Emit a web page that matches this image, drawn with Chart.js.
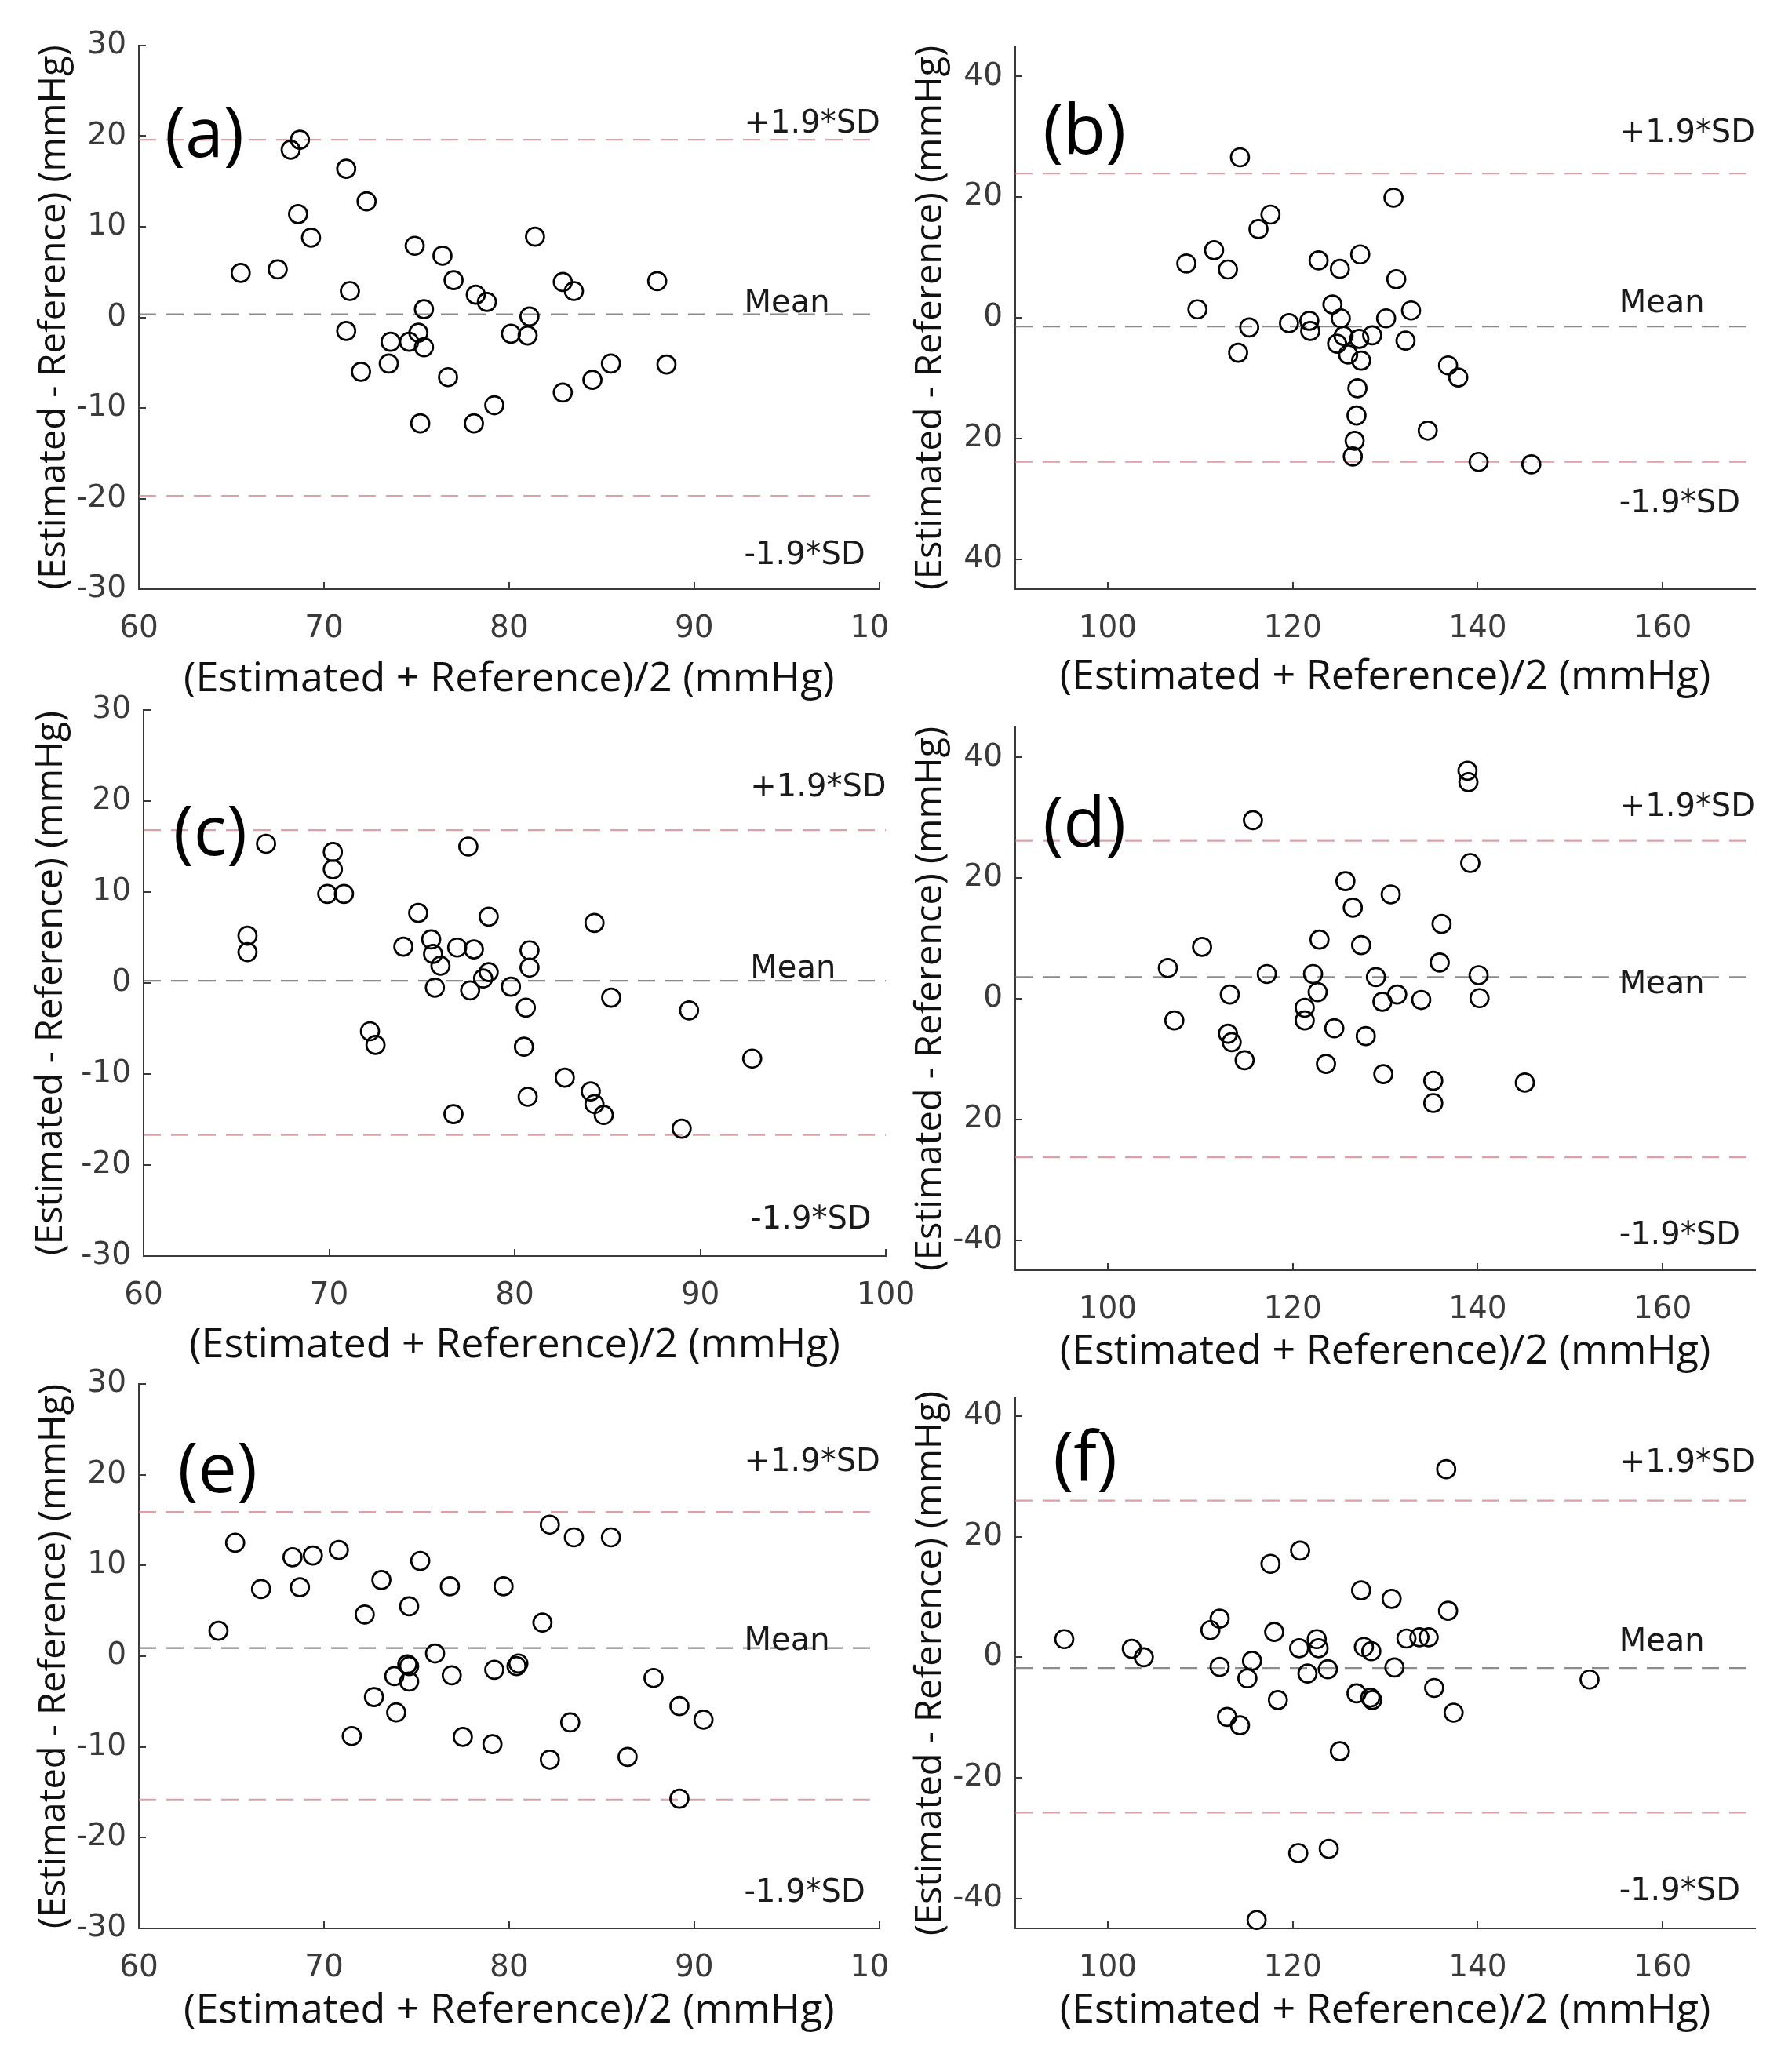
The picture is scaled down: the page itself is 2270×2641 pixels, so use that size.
<!DOCTYPE html>
<html>
<head>
<meta charset="utf-8">
<script src="https://cdn.jsdelivr.net/npm/chart.js@4.4.1/dist/chart.umd.min.js"></script>
<style>
  html, body { margin: 0; padding: 0; background: #ffffff; }
  #wrap { position: relative; width: 2270px; height: 2641px; background: #ffffff; overflow: hidden; }
  .panel { position: absolute; }
</style>
</head>
<body>
<div id="wrap"></div>
<script>
// ---------------- DATA ----------------
// (a)
const aX = [65.5, 67.5, 68.2, 68.7, 68.6, 69.3, 71.2, 71.4, 71.2, 72.0, 72.3, 73.5, 73.6, 74.6, 75.1, 74.9, 75.4, 75.4, 75.2, 76.4, 76.7, 77.0, 78.2, 78.8, 78.1, 79.2, 80.1, 81.0, 81.1, 81.4, 82.9, 83.5, 82.9, 84.5, 85.5, 88.0, 88.5];
const aY = [4.9, 5.3, 18.5, 19.6, 11.4, 8.8, 16.4, 2.9, -1.5, -6.0, 12.8, -5.1, -2.7, -2.7, -1.7, 7.9, 0.9, -3.3, -11.7, 6.8, -6.6, 4.1, 2.5, 1.7, -11.7, -9.7, -1.8, -2.0, 0.1, 8.9, 3.9, 2.9, -8.3, -6.9, -5.1, 4.0, -5.2];
const aLines = [19.6, 0.34, -19.7];
// (b)
const bX = [114.3, 130.9, 117.6, 116.3, 111.5, 108.5, 113.0, 122.8, 125.1, 127.3, 131.2, 109.7, 124.3, 125.2, 132.8, 130.1, 115.3, 119.6, 121.8, 121.9, 125.5, 127.2, 128.6, 124.8, 126.0, 132.2, 114.1, 127.4, 136.8, 137.9, 127.0, 126.9, 126.7, 126.5, 134.6, 140.1, 145.8];
const bY = [26.6, 19.9, 17.1, 14.7, 11.2, 9.0, 8.0, 9.5, 8.1, 10.5, 6.4, 1.4, 2.2, -0.1, 1.2, -0.1, -1.6, -0.9, -0.5, -2.2, -3.0, -3.5, -2.9, -4.3, -6.1, -3.8, -5.8, -7.1, -7.9, -9.9, -11.7, -16.2, -20.4, -23.0, -18.7, -23.9, -24.3];
const bLines = [23.9, -1.45, -23.9];
// (c)
const cX = [66.6, 70.2, 70.2, 69.9, 70.8, 77.5, 65.6, 65.6, 74.8, 78.6, 84.3, 74.0, 75.5, 75.6, 76.0, 75.7, 76.9, 77.8, 77.6, 78.3, 78.6, 79.8, 80.8, 80.8, 80.6, 80.5, 80.7, 85.2, 89.4, 72.2, 72.5, 76.7, 82.7, 84.1, 84.3, 84.8, 89.0, 92.8];
const cY = [15.3, 14.4, 12.5, 9.8, 9.8, 15.0, 5.2, 3.4, 7.7, 7.3, 6.6, 4.0, 4.8, 3.2, 1.9, -0.5, 3.9, 3.7, -0.8, 0.5, 1.2, -0.4, 3.6, 1.7, -2.7, -7.0, -12.5, -1.6, -3.0, -5.3, -6.8, -14.4, -10.4, -11.9, -13.3, -14.5, -16.0, -8.3];
const cLines = [16.8, 0.24, -16.7];
// (d)
const dX = [138.9, 139.0, 115.7, 139.2, 125.7, 130.6, 126.5, 136.1, 110.2, 122.9, 127.4, 106.5, 135.9, 117.2, 122.2, 129.0, 140.1, 122.7, 113.2, 131.3, 129.7, 133.9, 140.2, 121.3, 121.3, 107.2, 113.0, 113.4, 124.5, 127.9, 114.8, 123.6, 129.8, 135.2, 135.2, 145.1];
const dY = [37.8, 35.9, 29.6, 22.5, 19.5, 17.3, 15.1, 12.4, 8.6, 9.8, 8.9, 5.1, 6.0, 4.1, 4.1, 3.6, 3.9, 1.1, 0.7, 0.7, -0.5, -0.2, 0.1, -1.5, -3.6, -3.6, -5.8, -7.2, -4.9, -6.2, -10.2, -10.8, -12.5, -13.6, -17.3, -13.9];
const dLines = [26.2, 3.6, -26.3];
// (e)
const eX = [64.3, 65.2, 66.6, 68.3, 68.7, 69.4, 70.8, 72.2, 73.1, 74.6, 75.2, 76.8, 79.7, 76.0, 74.5, 74.6, 73.8, 74.6, 76.9, 79.2, 80.4, 80.5, 81.8, 82.2, 83.5, 85.5, 72.7, 73.9, 71.5, 77.5, 79.1, 82.2, 83.3, 86.4, 87.8, 89.2, 90.5, 89.2];
const eY = [2.8, 12.5, 7.4, 10.9, 7.6, 11.1, 11.7, 4.6, 8.4, 5.5, 10.5, 7.7, 7.7, 0.3, -0.9, -1.1, -2.2, -2.8, -2.1, -1.5, -1.1, -0.8, 3.7, 14.5, 13.1, 13.1, -4.5, -6.2, -8.8, -8.9, -9.7, -11.4, -7.3, -11.1, -2.4, -5.5, -7.0, -15.7];
const eLines = [15.9, 0.9, -15.8];
// (f)
const fX = [95.3, 102.6, 103.9, 111.1, 112.1, 112.1, 112.9, 114.3, 115.6, 115.1, 117.6, 118.0, 118.4, 120.8, 120.7, 122.6, 122.8, 121.6, 123.8, 125.1, 120.6, 123.9, 116.1, 127.4, 130.7, 136.8, 136.6, 127.7, 128.5, 126.9, 128.4, 128.6, 131.0, 132.3, 133.7, 134.7, 135.3, 137.4, 152.1];
const fY = [3.0, 1.4, 0.0, 4.5, 6.4, -1.6, -9.9, -11.3, -0.6, -3.5, 15.5, 4.2, -7.1, 17.7, 1.5, 3.0, 1.5, -2.7, -2.0, -15.6, -32.5, -31.8, -43.6, 11.1, 9.7, 7.7, 31.2, 1.7, 1.0, -6.0, -6.7, -7.1, -1.7, 3.1, 3.3, 3.3, -5.1, -9.2, -3.7];
const fLines = [26.0, -1.8, -25.8];

// Axis ranges and ticks
const leftXRange = [60, 100];
const rightXRange = [90, 170];
const leftYRange = [-30, 30];
const rightYRange = [-45, 45];
const fYRange = [-45, 43];
const leftXTicks = [60, 70, 80, 90, 100];
const rightXTicks = [100, 120, 140, 160];
const leftYTicks = [30, 20, 10, 0, -10, -20, -30];
const rightYTicks = [40, 20, 0, -20, -40];
const aXLabels = ['60', '70', '80', '90', '10\u2007'];
const cXLabels = ['60', '70', '80', '90', '100'];
const eXLabels = ['60', '70', '80', '90', '10\u2007'];
const rightXLabels = ['100', '120', '140', '160'];
const leftYLabels = ['30', '20', '10', '0', '-10', '-20', '-30'];
const bYLabels = ['40', '20', '0', '20', '40'];
const dYLabels = ['40', '20', '0', '20', '-40'];
const fYLabels = ['40', '20', '0', '-20', '-40'];

// Text
const panelLetters = ['(a)', '(b)', '(c)', '(d)', '(e)', '(f)'];
const lineLabels = ['+1.9*SD', 'Mean', '-1.9*SD'];
const xTitle = '(Estimated + Reference)/2 (mmHg)';
const yTitle = '(Estimated - Reference) (mmHg)';
// positions of the text (data units): [x of letter, y of letter, x of line labels, y of +SD label, y of Mean label, y of -SD label]
const aText = [61.4, 19.9, 92.7, 21.3, 1.5, -26.3];
const bText = [93.0, 30.4, 155.3, 30.5, 2.2, -30.9];
const cText = [61.6, 16.2, 92.7, 21.4, 1.5, -26.1];
const dText = [93.0, 28.5, 155.3, 31.7, 2.2, -39.3];
const eText = [62.1, 20.2, 92.7, 21.3, 1.6, -26.2];
const fText = [94.1, 32.4, 155.3, 32.1, 2.4, -39.0];

// ---------------- LAYOUT / STYLE ----------------
const panels = [
  { xs: aX, ys: aY, lines: aLines, xr: leftXRange, yr: leftYRange, xt: leftXTicks, xl: aXLabels, yt: leftYTicks, yl: leftYLabels, txt: aText,
    box: { left: 0, top: 0, w: 1135, h: 897 }, plot: { left: 177, top: 58, right: 1122, bottom: 751 }, yTitleX: 69 },
  { xs: bX, ys: bY, lines: bLines, xr: rightXRange, yr: rightYRange, xt: rightXTicks, xl: rightXLabels, yt: rightYTicks, yl: bYLabels, txt: bText,
    box: { left: 1135, top: 0, w: 1135, h: 894 }, plot: { left: 1294, top: 59, right: 2237, bottom: 751 }, yTitleX: 51 },
  { xs: cX, ys: cY, lines: cLines, xr: leftXRange, yr: leftYRange, xt: leftXTicks, xl: cXLabels, yt: leftYTicks, yl: leftYLabels, txt: cText,
    box: { left: 0, top: 860, w: 1175, h: 886 }, plot: { left: 183, top: 905, right: 1129, bottom: 1601 }, yTitleX: 65 },
  { xs: dX, ys: dY, lines: dLines, xr: rightXRange, yr: rightYRange, xt: rightXTicks, xl: rightXLabels, yt: rightYTicks, yl: dYLabels, txt: dText,
    box: { left: 1135, top: 860, w: 1135, h: 894 }, plot: { left: 1294, top: 927, right: 2237, bottom: 1619 }, yTitleX: 51 },
  { xs: eX, ys: eY, lines: eLines, xr: leftXRange, yr: leftYRange, xt: leftXTicks, xl: eXLabels, yt: leftYTicks, yl: leftYLabels, txt: eText,
    box: { left: 0, top: 1720, w: 1135, h: 874 }, plot: { left: 177, top: 1764, right: 1122, bottom: 2458 }, yTitleX: 69 },
  { xs: fX, ys: fY, lines: fLines, xr: rightXRange, yr: fYRange, xt: rightXTicks, xl: rightXLabels, yt: rightYTicks, yl: fYLabels, txt: fText,
    box: { left: 1135, top: 1720, w: 1135, h: 874 }, plot: { left: 1294, top: 1782, right: 2237, bottom: 2458 }, yTitleX: 51 }
];

const TICK_FONT = { family: '"DejaVu Sans", sans-serif', size: 39 };
const TICK_COLOR = '#3a3a3a';
const AXIS_COLOR = '#3a3a3a';
const TITLE_X_FONT = { family: '"Open Sans", sans-serif', size: 52, lineHeight: 1.2 };
const TITLE_Y_FONT = { family: '"Open Sans", sans-serif', size: 47, lineHeight: 1.2 };
const LABEL_FONT = '40px "DejaVu Sans", sans-serif';
const LETTER_FONT = '88px "Open Sans", sans-serif';
const SD_COLOR = 'rgba(205,120,130,0.7)';
const MEAN_COLOR = 'rgba(100,100,100,0.75)';
const lineStyles = [SD_COLOR, MEAN_COLOR, SD_COLOR];

const textPlugin = {
  id: 'panelText',
  afterDatasetsDraw(chart, args, opts) {
    const { ctx } = chart;
    const xs = chart.scales.x, ys = chart.scales.y;
    ctx.save();
    ctx.textAlign = 'left';
    ctx.textBaseline = 'middle';
    opts.items.forEach(it => {
      ctx.font = it.font;
      ctx.fillStyle = it.color;
      ctx.fillText(it.text, xs.getPixelForValue(it.x), ys.getPixelForValue(it.y));
    });
    ctx.restore();
  }
};

const wrap = document.getElementById('wrap');

panels.forEach((p, idx) => {
  const div = document.createElement('div');
  div.className = 'panel';
  div.style.left = p.box.left + 'px';
  div.style.top = p.box.top + 'px';
  div.style.width = p.box.w + 'px';
  div.style.height = p.box.h + 'px';
  const cv = document.createElement('canvas');
  cv.width = p.box.w; cv.height = p.box.h;
  cv.style.width = p.box.w + 'px'; cv.style.height = p.box.h + 'px';
  div.appendChild(cv);
  wrap.appendChild(div);

  const padTop = p.plot.top - p.box.top;
  const padRight = p.box.left + p.box.w - p.plot.right;
  const yWidth = p.plot.left - p.box.left;
  const xHeight = p.box.top + p.box.h - p.plot.bottom;

  const datasets = p.lines.map((v, i) => ({
    type: 'line',
    data: [{ x: p.xr[0], y: v }, { x: p.xr[1], y: v }],
    borderColor: lineStyles[i],
    borderWidth: 2.2,
    borderDash: [22, 13],
    pointRadius: 0,
    fill: false,
    order: 2
  }));
  datasets.push({
    type: 'scatter',
    data: p.xs.map((x, i) => ({ x: x, y: p.ys[i] })),
    pointStyle: 'circle',
    pointRadius: 11.5,
    pointBorderWidth: 2.7,
    pointBorderColor: '#000000',
    pointBackgroundColor: 'rgba(0,0,0,0)',
    showLine: false,
    clip: false,
    order: 1
  });

  const t = p.txt;
  const items = [
    { text: panelLetters[idx], x: t[0], y: t[1], font: LETTER_FONT, color: '#000' },
    { text: lineLabels[0], x: t[2], y: t[3], font: LABEL_FONT, color: '#1a1a1a' },
    { text: lineLabels[1], x: t[2], y: t[4], font: LABEL_FONT, color: '#1a1a1a' },
    { text: lineLabels[2], x: t[2], y: t[5], font: LABEL_FONT, color: '#1a1a1a' }
  ];

  new Chart(cv, {
    type: 'scatter',
    data: { datasets },
    plugins: [textPlugin],
    options: {
      responsive: false,
      animation: false,
      devicePixelRatio: 1,
      layout: { padding: { top: padTop, right: padRight, left: 0, bottom: 0 } },
      plugins: {
        legend: { display: false },
        tooltip: { enabled: false },
        panelText: { items }
      },
      scales: {
        x: {
          type: 'linear',
          min: p.xr[0], max: p.xr[1],
          afterBuildTicks: s => { s.ticks = p.xt.map(v => ({ value: v })); },
          afterFit: s => { s.height = xHeight; s.paddingLeft = 0; s.paddingRight = 0; },
          ticks: {
            autoSkip: false, maxRotation: 0, minRotation: 0,
            font: TICK_FONT, color: TICK_COLOR, padding: 36,
            callback: (v, i) => p.xl[i]
          },
          grid: { drawOnChartArea: false, drawTicks: true, tickLength: -9, color: AXIS_COLOR, lineWidth: 2 },
          border: { display: true, color: AXIS_COLOR, width: 2 },
          title: { display: true, text: xTitle, font: TITLE_X_FONT, color: '#111', padding: { top: 0, bottom: 0 } }
        },
        y: {
          type: 'linear',
          min: p.yr[0], max: p.yr[1],
          afterBuildTicks: s => { s.ticks = p.yt.map(v => ({ value: v })); },
          afterFit: s => { s.width = yWidth; s.paddingTop = 0; s.paddingBottom = 0; },
          ticks: {
            autoSkip: false,
            font: TICK_FONT, color: TICK_COLOR, padding: 25,
            callback: (v, i) => p.yl[i]
          },
          grid: { drawOnChartArea: false, drawTicks: true, tickLength: -9, color: AXIS_COLOR, lineWidth: 2 },
          border: { display: true, color: AXIS_COLOR, width: 2 },
          title: { display: true, text: yTitle, font: TITLE_Y_FONT, color: '#111', padding: { top: p.yTitleX - 28, bottom: 0 } }
        }
      }
    }
  });
});
</script>
</body>
</html>
